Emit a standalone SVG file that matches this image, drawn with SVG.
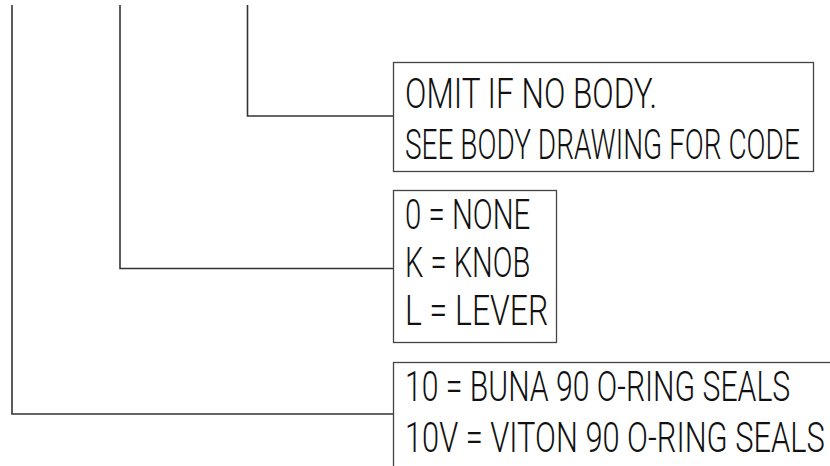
<svg xmlns="http://www.w3.org/2000/svg" width="830" height="466" viewBox="0 0 830 466">
<style>
.c{fill:none;stroke:#333;stroke-width:1.6}
.b{fill:#fff;stroke:#444;stroke-width:1.3}
.t{font-family:Roboto,"DejaVu Sans",sans-serif;font-weight:300;font-size:43px;fill:#111}
</style>
<rect width="830" height="466" fill="#fff"/>
<g id="connectors">
<polyline class="c" points="247.5,5 247.5,116 394,116"/>
<polyline class="c" points="120,5 120,268.5 394,268.5"/>
<polyline class="c" points="12,5 12,414 394,414"/>
</g>
<g id="node-body">
<rect class="b" x="393.5" y="62.5" width="420" height="109"/>
<g transform="scale(0.72,1)">
<text class="t" x="562.5" y="108" textLength="350" lengthAdjust="spacingAndGlyphs">OMIT IF NO BODY.</text>
</g>
<g transform="scale(0.64,1)">
<text class="t" x="632.8" y="159" textLength="617" lengthAdjust="spacingAndGlyphs">SEE BODY DRAWING FOR CODE</text>
</g>
</g>
<g id="node-handle">
<rect class="b" x="393.5" y="190.5" width="163" height="152"/>
<g transform="scale(0.72,1)">
<text class="t" x="562.5" y="229" textLength="174" lengthAdjust="spacingAndGlyphs">0 = NONE</text>
<text class="t" x="562.5" y="277" textLength="174" lengthAdjust="spacingAndGlyphs">K = KNOB</text>
<text class="t" x="562.5" y="325" textLength="199" lengthAdjust="spacingAndGlyphs">L = LEVER</text>
</g>
</g>
<g id="node-seals">
<rect class="b" x="393.5" y="362.5" width="450" height="120"/>
<g transform="scale(0.72,1)">
<text class="t" x="562.5" y="401" textLength="535" lengthAdjust="spacingAndGlyphs">10 = BUNA 90 O-RING SEALS</text>
<text class="t" x="562.5" y="452" textLength="583" lengthAdjust="spacingAndGlyphs">10V = VITON 90 O-RING SEALS</text>
</g>
</g>
</svg>
